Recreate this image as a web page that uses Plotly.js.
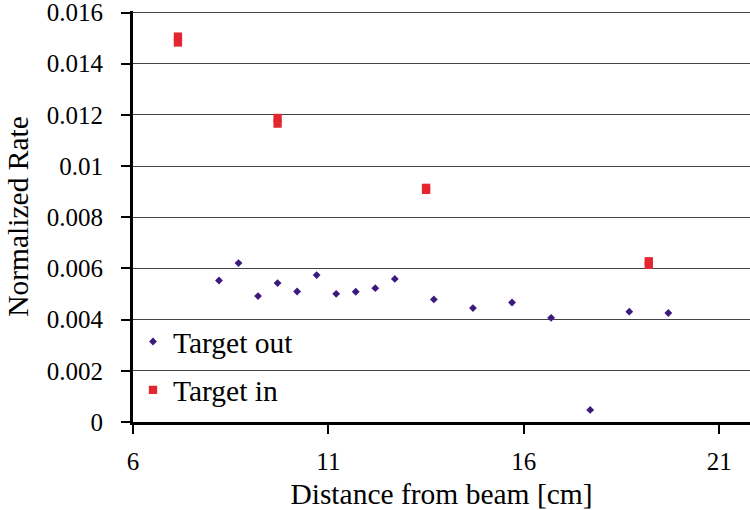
<!DOCTYPE html>
<html>
<head>
<meta charset="utf-8">
<script src="https://cdn.plot.ly/plotly-3.0.1.min.js"></script>
<style>html,body{margin:0;padding:0;background:#fff;}#chart{width:750px;height:510px;}</style>
</head>
<body>
<div id="chart"></div>
<script>
// Target out
const outX = [8.2, 8.7, 9.2, 9.7, 10.2, 10.7, 11.2, 11.7, 12.2, 12.7, 13.7, 14.7, 15.7, 16.7, 17.7, 18.7, 19.7];
const outY = [0.00553, 0.00621, 0.00492, 0.00543, 0.00510, 0.00574, 0.00501, 0.00509, 0.00523, 0.00559, 0.00479, 0.00445, 0.00467, 0.00407, 0.00047, 0.00431, 0.00426];
// Target in (two measurements at each position)
const inX = [7.15, 7.15, 9.7, 9.7, 13.5, 13.5, 19.2, 19.2];
const inY = [0.01506, 0.01483, 0.01188, 0.01166, 0.00915, 0.00907, 0.00628, 0.00614];
// Tick values
const yTicks = [0, 0.002, 0.004, 0.006, 0.008, 0.01, 0.012, 0.014, 0.016];
const yTickText = ['0', '0.002', '0.004', '0.006', '0.008', '0.01', '0.012', '0.014', '0.016'];
const xTicks = [6, 11, 16, 21];

const serif = 'Liberation Serif';

const data = [
  {x: outX, y: outY, type: 'scatter', mode: 'markers', name: 'Target out', legendgroup: 'a',
   marker: {symbol: 'diamond', size: 6, color: '#3C1A7D'}},
  {x: inX, y: inY, type: 'scatter', mode: 'markers', name: 'Target in', legendgroup: 'b',
   marker: {symbol: 'square', size: 8.3, color: '#E3262F'}}
];

const layout = {
  width: 750, height: 510,
  margin: {l: 132.5, r: 0, t: 11.1, b: 87.7},
  paper_bgcolor: '#fff', plot_bgcolor: '#fff',
  font: {family: serif, color: '#000', size: 25},
  showlegend: true,
  legend: {x: 0.0, y: 0.015, xanchor: 'left', yanchor: 'bottom', traceorder: 'grouped', tracegroupgap: 7,
           font: {family: serif, size: 29.5, color: '#000'}, bgcolor: 'rgba(0,0,0,0)'},
  xaxis: {
    range: [6, 21.79], tickmode: 'array', tickvals: xTicks, ticks: 'outside', ticklen: 9, tickwidth: 2, tickcolor: '#000',
    showline: true, linecolor: '#000', linewidth: 3, showgrid: false, zeroline: false,
    tickfont: {family: serif, size: 25, color: '#000'}, ticklabelstandoff: 6, ticklabeloverflow: 'allow',
    title: {text: 'Distance from beam [cm]', font: {family: serif, size: 29.5, color: '#000'}, standoff: 10}
  },
  yaxis: {
    range: [0, 0.01606], tickmode: 'array', tickvals: yTicks, ticktext: yTickText,
    ticks: 'outside', ticklen: 9, tickwidth: 2, tickcolor: '#000',
    showline: true, linecolor: '#000', linewidth: 3, showgrid: true, gridcolor: '#444', gridwidth: 1,
    zeroline: false,
    tickfont: {family: serif, size: 25, color: '#000'}, ticklabelstandoff: 13, ticklabeloverflow: 'allow',
    title: {text: 'Normalized Rate', font: {family: serif, size: 29.5, color: '#000'}, standoff: 10}
  }
};

Plotly.newPlot('chart', data, layout, {displayModeBar: false, staticPlot: true});
</script>
</body>
</html>
